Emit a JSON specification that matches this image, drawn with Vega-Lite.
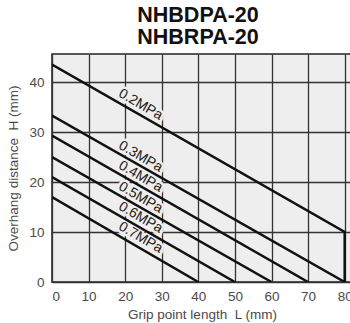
{
  "$schema": "https://vega.github.io/schema/vega-lite/v6.json",
  "autosize": "none",
  "width": 300,
  "height": 228,
  "padding": {"left": 52, "top": 54, "right": 0, "bottom": 41},
  "background": "white",
  "title": {
    "text": ["NHBDPA-20", "NHBRPA-20"],
    "font": "Liberation Sans",
    "fontSize": 21.5,
    "fontWeight": "bold",
    "color": "#111111",
    "lineHeight": 22,
    "anchor": "middle",
    "frame": "group",
    "dx": -4,
    "offset": 6
  },
  "config": {
    "view": {"stroke": "#222222", "strokeWidth": 1.5, "fill": "#eeeeee"},
    "axis": {
      "labelFont": "Liberation Sans",
      "labelFontSize": 13.5,
      "labelColor": "#4a4a4a",
      "titleFont": "Liberation Sans",
      "titleFontSize": 13.5,
      "titleFontWeight": "normal",
      "titleColor": "#4a4a4a",
      "ticks": false,
      "domain": false,
      "grid": true,
      "gridColor": "#333333",
      "gridWidth": 1.3,
      "gridOpacity": 1
    }
  },
  "datasets": {
    "curves": [
      {"p": "0.2MPa", "i": 0, "L": 0, "H": 43.5},
      {"p": "0.2MPa", "i": 1, "L": 80, "H": 10},
      {"p": "0.2MPa", "i": 2, "L": 80, "H": 0},
      {"p": "0.3MPa", "i": 0, "L": 0, "H": 33.3},
      {"p": "0.3MPa", "i": 1, "L": 80, "H": 0},
      {"p": "0.4MPa", "i": 0, "L": 0, "H": 29.3},
      {"p": "0.4MPa", "i": 1, "L": 70, "H": 0},
      {"p": "0.5MPa", "i": 0, "L": 0, "H": 25},
      {"p": "0.5MPa", "i": 1, "L": 60, "H": 0},
      {"p": "0.6MPa", "i": 0, "L": 0, "H": 21},
      {"p": "0.6MPa", "i": 1, "L": 50, "H": 0},
      {"p": "0.7MPa", "i": 0, "L": 0, "H": 17},
      {"p": "0.7MPa", "i": 1, "L": 40, "H": 0}
    ],
    "labels": [
      {"p": "0.2MPa", "L": 24.2, "H": 35.5},
      {"p": "0.3MPa", "L": 24.2, "H": 25.1},
      {"p": "0.4MPa", "L": 24.2, "H": 21.1},
      {"p": "0.5MPa", "L": 24.2, "H": 16.9},
      {"p": "0.6MPa", "L": 24.2, "H": 12.9},
      {"p": "0.7MPa", "L": 24.2, "H": 8.9}
    ]
  },
  "encoding": {
    "x": {
      "field": "L", "type": "quantitative",
      "scale": {"domain": [0, 82], "nice": false, "zero": false},
      "axis": {"values": [0, 10, 20, 30, 40, 50, 60, 70, 80], "title": "Grip point length\u00a0\u00a0L (mm)", "labelPadding": 7, "titlePadding": 5}
    },
    "y": {
      "field": "H", "type": "quantitative",
      "scale": {"domain": [0, 45.6], "nice": false, "zero": false},
      "axis": {"values": [0, 10, 20, 30, 40], "title": "Overhang distance\u00a0\u00a0H (mm)", "labelPadding": 8, "titlePadding": 8}
    }
  },
  "layer": [
    {
      "data": {"name": "labels"},
      "mark": {"type": "text", "angle": 30, "font": "Liberation Sans", "fontSize": 14, "stroke": "#eeeeee", "strokeWidth": 5, "fill": "#eeeeee", "align": "center", "baseline": "middle"},
      "encoding": {"text": {"field": "p"}}
    },
    {
      "data": {"name": "curves"},
      "mark": {"type": "line", "color": "#111111", "strokeWidth": 2.5, "clip": true},
      "encoding": {
        "detail": {"field": "p"},
        "order": {"field": "i", "type": "quantitative"}
      }
    },
    {
      "data": {"name": "labels"},
      "mark": {"type": "text", "angle": 30, "font": "Liberation Sans", "fontSize": 14, "color": "#222222", "align": "center", "baseline": "middle"},
      "encoding": {"text": {"field": "p"}}
    }
  ]
}
